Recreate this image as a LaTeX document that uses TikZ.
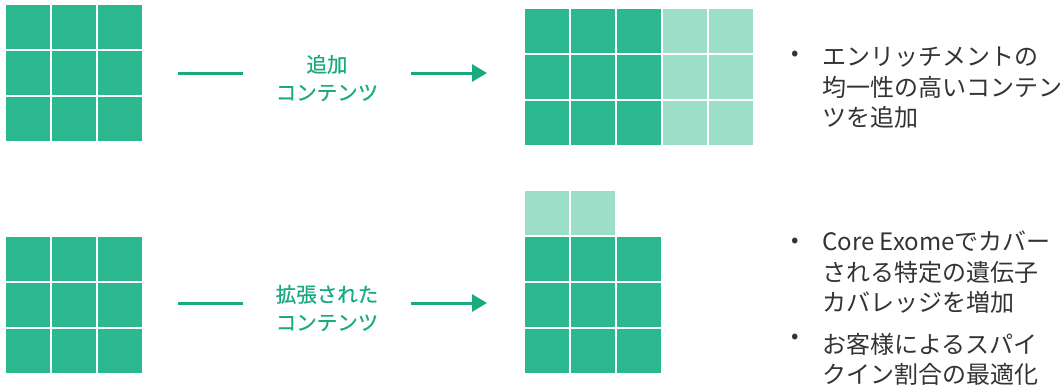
\documentclass[tikz,border=0pt]{standalone}
\usepackage{fontspec}
\setmainfont{Noto Sans CJK JP}
\newfontfamily\lblfont{Noto Sans CJK JP}[FakeBold=0.6]
\usetikzlibrary{arrows.meta}
\definecolor{dk}{HTML}{2CB88E}
\definecolor{lt}{HTML}{9DDEC8}
\definecolor{lbl}{HTML}{1AAA80}
\definecolor{txt}{HTML}{333333}
\tikzset{
  cell/.style={fill=#1, draw=none},
  conn/.style={draw=lbl, line width=3pt},
  arr/.style={conn, -{Triangle[length=15pt,width=17pt]}},
  midlbl/.style={text=lbl, align=center, font=\lblfont\fontsize{20.5}{28}\selectfont, inner sep=0pt},
  bul/.style={text=txt, align=left, anchor=north west, font=\fontsize{24}{30.5}\selectfont, inner sep=0pt},
  dot/.style={text=txt, font=\fontsize{22}{22}\selectfont, inner sep=0pt}
}
\newcommand{\gridcell}[3]{\fill[cell=#3] (#1,#2) rectangle ++(44,44);}
\begin{document}
\begin{tikzpicture}[x=1pt,y=-1pt]
\useasboundingbox (0,0) rectangle (1064,391);
% top-left grid
\foreach \i in {0,1,2}{\foreach \j in {0,1,2}{
  \gridcell{6+46*\i}{5+46*\j}{dk}}}
% bottom-left grid
\foreach \i in {0,1,2}{\foreach \j in {0,1,2}{
  \gridcell{6+46*\i}{237+46*\j}{dk}}}
% top-right grid
\foreach \j in {0,1,2}{
  \foreach \i in {0,1,2}{\gridcell{525+46*\i}{9+46*\j}{dk}}
  \foreach \i in {3,4}{\gridcell{525+46*\i}{9+46*\j}{lt}}}
% bottom-right grid
\foreach \i in {0,1}{\gridcell{525+46*\i}{191}{lt}}
\foreach \j in {1,2,3}{\foreach \i in {0,1,2}{
  \gridcell{525+46*\i}{191+46*\j}{dk}}}
% top connector
\coordinate (ta1) at (178,73);
\coordinate (ta2) at (243,73);
\coordinate (tb1) at (411,73);
\coordinate (tb2) at (487,73);
\draw[conn] (ta1) -- (ta2);
\draw[arr] (tb1) -- (tb2);
\node[midlbl] (tl) at (327,78) {追加\\コンテンツ};
% bottom connector
\coordinate (ba1) at (178,303);
\coordinate (ba2) at (243,303);
\coordinate (bb1) at (411,303);
\coordinate (bb2) at (487,303);
\draw[conn] (ba1) -- (ba2);
\draw[arr] (bb1) -- (bb2);
\node[midlbl] (bl) at (327,308) {拡張された\\コンテンツ};
% bullets
\node[dot] (d1) at (795,56) {•};
\node[bul] (b1) at (822,47) {エンリッチメントの\\均一性の高いコンテン\\ツを追加};
\node[dot] (d2) at (795,243) {•};
\node[bul] (b2) at (822,231) {Core Exomeでカバー\\される特定の遺伝子\\カバレッジを増加};
\node[dot] (d3) at (795,339) {•};
\node[bul] (b3) at (822,333) {お客様によるスパイ\\クイン割合の最適化};
\end{tikzpicture}
\end{document}
